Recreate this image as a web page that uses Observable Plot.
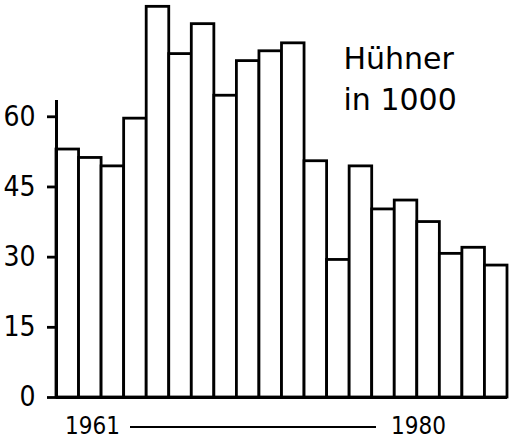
<!DOCTYPE html>
<html>
<head>
<meta charset="utf-8">
<script src="https://cdn.jsdelivr.net/npm/d3@7"></script>
<script src="https://cdn.jsdelivr.net/npm/@observablehq/plot@0.6"></script>
<style>
  html, body { margin: 0; padding: 0; background: #fff; }
  #wrap { position: relative; width: 526px; height: 439px; overflow: hidden; }
  #caption { position: absolute; left: 65px; top: 414px; height: 24px; line-height: 24px; display: flex; align-items: center;
    font-family: "DejaVu Sans Condensed", sans-serif; font-size: 24px; color: #000; }
  #caption .rule { width: 246px; height: 0; border-top: 2px solid #000; margin: 0 15px 0 10px; position: relative; top: 1px; }
</style>
</head>
<body>
<div id="wrap"><div id="chart"></div><div id="caption"></div></div>
<script>
const years = d3.range(1961, 1981);
const values = [53.0, 51.2, 49.4, 59.6, 83.5, 73.4, 79.8, 64.5, 71.9, 74.0, 75.7, 50.5, 29.4, 49.4, 40.2, 42.1, 37.5, 30.7, 32.0, 28.2];
const yTicks = [0, 15, 30, 45, 60];
const titleLines = ["Hühner", "in 1000"];
const rangeLabels = ["1961", "1980"];

const data = years.map((year, i) => ({year, value: values[i]}));

const chart = Plot.plot({
  width: 526,
  height: 412,
  marginLeft: 56,
  marginRight: 19,
  marginTop: 4,
  marginBottom: 15,
  x: {domain: [years[0] - 0.5, years[years.length - 1] + 0.5], axis: null},
  y: {domain: [0, 84], axis: null},
  style: {background: "white"},
  marks: [
    Plot.rectY(data, {x1: d => d.year - 0.5, x2: d => d.year + 0.5, y1: 0, y2: "value",
      fill: "white", stroke: "black", strokeWidth: 2.8}),
    Plot.ruleX([years[0] - 0.5], {y1: 0, y2: 63.5, stroke: "black", strokeWidth: 3}),
    Plot.ruleY([0], {stroke: "black", strokeWidth: 3}),
    Plot.axisY({ticks: yTicks, tickSize: 9, tickPadding: 12, strokeWidth: 2.8,
      fontSize: 28, fontFamily: "DejaVu Sans Condensed, sans-serif",
      tickFormat: d => String(d), label: null}),
    Plot.text([titleLines.join("\n")], {frameAnchor: "top-right", textAnchor: "start", lineAnchor: "top",
      dx: -164, dy: 36, fontSize: 30, lineHeight: 1.36, fontFamily: "DejaVu Sans, sans-serif", fill: "black"})
  ]
});
document.getElementById("chart").appendChild(chart);

const cap = document.getElementById("caption");
const a = document.createElement("span"); a.textContent = rangeLabels[0];
const r = document.createElement("span"); r.className = "rule";
const b = document.createElement("span"); b.textContent = rangeLabels[1];
cap.append(a, r, b);
</script>
</body>
</html>
